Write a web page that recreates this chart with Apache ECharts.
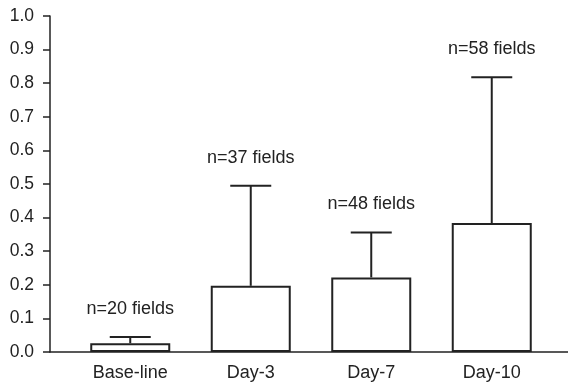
<!DOCTYPE html>
<html><head><meta charset="utf-8">
<script src="https://cdn.jsdelivr.net/npm/echarts@6/dist/echarts.min.js"></script>
<style>html,body{margin:0;padding:0;background:#fff}#c{width:568px;height:384px}</style>
</head><body><div id="c"></div>
<script>
var categories = ['Base-line', 'Day-3', 'Day-7', 'Day-10'];
var means = [0.026, 0.197, 0.222, 0.384];
var upper = [0.045, 0.495, 0.356, 0.818];
var nLabels = ['n=20 fields', 'n=37 fields', 'n=48 fields', 'n=58 fields'];
var yTicks = [0, 0.1, 0.2, 0.3, 0.4, 0.5, 0.6, 0.7, 0.8, 0.9, 1.0];

var ink = '#222';
var font = 'Liberation Sans, Arial, Helvetica, sans-serif';
var chart = echarts.init(document.getElementById('c'), null, {renderer: 'canvas'});
chart.setOption({
  animation: false,
  grid: [
    {left: 70, right: 16, top: 16, bottom: 32},
    {left: 50, right: 0, top: 16, bottom: 32}
  ],
  xAxis: [
    {type: 'category', gridIndex: 0, data: categories, boundaryGap: true,
     axisLine: {show: false}, axisTick: {show: false},
     axisLabel: {color: ink, fontSize: 18, fontFamily: font, margin: 12}},
    {type: 'value', gridIndex: 1, min: 0, max: 1, show: true,
     axisLine: {show: true, lineStyle: {color: ink, width: 1.5}},
     axisTick: {show: false}, axisLabel: {show: false}, splitLine: {show: false}}
  ],
  yAxis: [
    {type: 'value', gridIndex: 0, min: 0, max: 1, show: false, splitLine: {show: false}},
    {type: 'value', gridIndex: 1, min: 0, max: 1, interval: 0.1,
     axisLine: {show: true, lineStyle: {color: ink, width: 1.5}},
     axisTick: {show: true, length: 7, lineStyle: {color: ink, width: 1.5}},
     splitLine: {show: false},
     axisLabel: {color: ink, fontSize: 17.5, fontFamily: font, margin: 16,
       formatter: function (v) { return v.toFixed(1); }}}
  ],
  series: [
    {type: 'bar', xAxisIndex: 0, yAxisIndex: 0, data: means, barWidth: 80,
     itemStyle: {color: '#fff', borderColor: ink, borderWidth: 2}},
    {type: 'custom', xAxisIndex: 0, yAxisIndex: 0,
     data: categories.map(function (c, i) { return [i, means[i], upper[i]]; }),
     renderItem: function (params, api) {
       var x = api.value(0);
       var pLow = api.coord([x, api.value(1)]);
       var pHigh = api.coord([x, api.value(2)]);
       var half = 20.5;
       return {type: 'group', children: [
         {type: 'line', shape: {x1: pLow[0], y1: pLow[1], x2: pHigh[0], y2: pHigh[1]},
          style: {stroke: ink, lineWidth: 2}},
         {type: 'line', shape: {x1: pHigh[0] - half, y1: pHigh[1], x2: pHigh[0] + half, y2: pHigh[1]},
          style: {stroke: ink, lineWidth: 2}},
         {type: 'text', x: pHigh[0], y: pHigh[1] - 28,
          style: {text: nLabels[params.dataIndex], fill: ink, fontSize: 18, fontFamily: font,
                  align: 'center', verticalAlign: 'middle'}}
       ]};
     }}
  ]
});
</script></body></html>
